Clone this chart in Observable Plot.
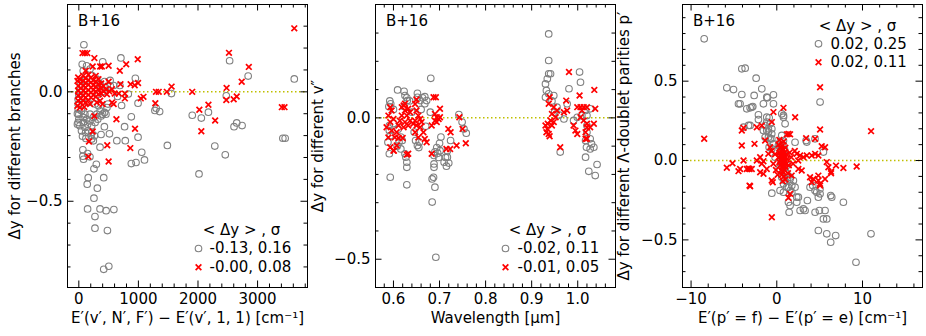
<!DOCTYPE html>
<html><head><meta charset="utf-8">
<script src="https://cdn.jsdelivr.net/npm/d3@7"></script>
<script src="https://cdn.jsdelivr.net/npm/@observablehq/plot@0.6"></script>
<style>
body{margin:0;background:#fff;}
#chart{display:flex;width:926px;height:336px;overflow:hidden;}
#chart svg{display:block;flex:none;}
</style></head><body><div id="chart"></div>
<script>
// ---------- shared text ----------
const sourceLabel = "B+16";
const legendTitle = "< Δy > , σ";

// ---------- panel 1: different branches ----------
const branchesXLabel = "E′(v′, N′, F′) − E′(v′, 1, 1) [cm⁻¹]";
const branchesYLabel = "Δy for different branches";
const branchesLegend = ["-0.13, 0.16", "-0.00, 0.08"];
const branchesXTicks = [0, 1000, 2000, 3000];
const branchesXTickLabels = ["0", "1000", "2000", "3000"];
const branchesXMinor = [200, 400, 600, 800, 1200, 1400, 1600, 1800, 2200, 2400, 2600, 2800, 3200, 3400, 3600, 3800];
const branchesYTicks = [-0.5, 0];
const branchesYTickLabels = ["−0.5", "0.0"];
const branchesYMinor = [-0.8, -0.7, -0.6, -0.4, -0.3, -0.2, -0.1, 0.1, 0.2, 0.3];
const branchesCircles = [
  [85,0.215],[706,0.155],[401,0.137],[2842,0.072],[2531,0.142],[3616,0.059],[949,0.062],[1554,-0.008],
  [1299,-0.075],[1356,-0.09],[1277,-0.085],[1904,-0.107],[2056,-0.12],[2175,-0.093],[2605,-0.159],[2650,-0.142],
  [2740,-0.154],[2475,-0.018],[1486,-0.245],[2282,-0.248],[2458,-0.288],[2017,-0.375],[3424,-0.212],[3463,-0.212],
  [881,-0.114],[994,-0.207],[768,-0.159],[780,-0.223],[638,-0.223],[514,-0.192],[718,-0.0625],[689,0.029],
  [525,0.052],[650,-0.021],[830,-0.01],[1056,-0.276],[1102,-0.311],[960,-0.323],[881,-0.328],[429,-0.159],
  [373,-0.195],[356,-0.253],[294,-0.331],[254,-0.352],[158,-0.392],[141,-0.422],[311,-0.44],[418,-0.392],
  [254,-0.486],[147,-0.535],[356,-0.535],[458,-0.543],[588,-0.538],[271,-0.57],[271,-0.623],[480,-0.634],
  [418,-0.811],[503,-0.797],[68,-0.294],[79,-0.308],[147,-0.282],[186,-0.297],[68,-0.265],[62,-0.203],[119,-0.213],
  [57,0.126],[74,0.096],[585,0.029],[432,0.047],[994,-0.052],
  [-11,-0.034],[-11,-0.056],[-11,-0.079],[0,-0.102],[0,-0.125],[-11,-0.14],[17,-0.155],[45,-0.087],[74,-0.117],
  [74,-0.14],[102,-0.102],[102,-0.163],[131,-0.125],[148,-0.148],[159,-0.178],[188,-0.102],[188,-0.133],[216,-0.155],
  [216,-0.186],[244,-0.117],[261,-0.201],[273,-0.14],[301,-0.102],[318,-0.125],[330,-0.064],[358,-0.087],[375,-0.11],
  [398,-0.102],[432,-0.094],[455,-0.102],[472,-0.072],[489,-0.056],[273,-0.056],[159,-0.049],[330,-0.011],[403,0.002],
  [443,0.02],[528,0.027],[358,0.035],[301,0.058],[227,0.073],[188,0.104],[131,0.119],[102,0.05],[34,0.035],[17,0.005],
  [0,-0.011],[244,-0.224],[216,-0.216],[205,-0.201],[114,-0.186],[45,-0.178],[-23,-0.148],[-23,-0.1]
];
const branchesCrosses = [
  [62,0.177],[102,0.177],[142,0.177],[261,0.154],[386,0.116],[500,0.119],[795,0.126],[989,0.149],[688,0.096],
  [233,0.116],[358,0.116],[-11,0.066],[114,0.096],[699,0.035],[869,0.035],[938,0.03],[994,0.04],[500,0.046],
  [602,-0.008],[670,-0.008],[773,-0.008],[773,-0.03],[585,-0.056],[1040,-0.03],[1085,-0.023],[1284,-0.052],
  [1295,0],[1341,0],[1477,0],[1557,0.024],[1903,0],[261,-0.111],[631,-0.125],[233,-0.181],[943,-0.169],
  [170,-0.227],[477,-0.244],[864,-0.257],[159,-0.296],[500,-0.318],
  [3616,0.29],[2520,0.178],[2853,0.114],[2734,0.046],[2480,0.018],[2475,-0.037],[2599,-0.034],[2650,-0.021],
  [2023,-0.082],[2175,-0.059],[2288,-0.131],[2056,-0.18],[3407,-0.07],[3452,-0.07],
  [-23,0.05],[-11,0.027],[-11,0.005],[-11,-0.018],[-11,-0.041],[-23,-0.064],[17,0.058],[34,0.038],[34,0.017],
  [34,-0.008],[34,-0.029],[34,-0.05],[74,0.073],[74,0.05],[74,0.027],[74,0.005],[74,-0.018],[74,-0.041],
  [114,0.062],[114,0.041],[114,0.02],[114,-0.003],[114,-0.026],[114,-0.049],[159,0.078],[159,0.053],[159,0.032],
  [159,0.008],[159,-0.014],[159,-0.038],[205,0.066],[205,0.043],[205,0.02],[205,-0.003],[205,-0.026],[244,0.053],
  [244,0.03],[244,0.008],[244,-0.015],[284,0.073],[284,0.047],[284,0.023],[284,0.002],[284,-0.023],[330,0.058],
  [330,0.035],[330,0.012],[330,-0.011],[375,0.038],[375,0.017],[375,-0.008],[415,0.027],[415,0.002],[455,0.012],
  [472,-0.011],[511,0.002],[557,0.012],[358,-0.041],[301,-0.049],[188,-0.056],[91,-0.069],[17,-0.072],[398,-0.056],[557,-0.049]
];

// ---------- panel 2: different v'' ----------
const vppXLabel = "Wavelength [µm]";
const vppYLabel = "Δy for different v″";
const vppLegend = ["-0.02, 0.11", "-0.01, 0.05"];
const vppXTicks = [0.6, 0.7, 0.8, 0.9, 1.0];
const vppXTickLabels = ["0.6", "0.7", "0.8", "0.9", "1.0"];
const vppXMinor = [0.58, 0.62, 0.64, 0.66, 0.68, 0.72, 0.74, 0.76, 0.78, 0.82, 0.84, 0.86, 0.88, 0.92, 0.94, 0.96, 0.98, 1.02, 1.04, 1.06];
const vppYTicks = [-0.5, 0];
const vppYTickLabels = ["−0.5", "0.0"];
const vppYMinor = [-0.4, -0.3, -0.2, -0.1, 0.1, 0.2, 0.3];
const vppCircles = [
  [0.593,-0.21],[0.591,-0.127],[0.588,-0.086],[0.593,-0.063],[0.591,-0.045],[0.591,-0.027],[0.609,0.099],[0.623,0.094],
  [0.625,0.079],[0.629,0.071],[0.63,0.061],[0.629,-0.237],[0.629,-0.175],[0.629,-0.157],[0.627,-0.139],[0.625,-0.127],
  [0.681,0.14],[0.652,0.087],[0.652,0.073],[0.658,0.061],[0.663,0.071],[0.668,0.075],[0.672,0.061],[0.668,0.05],
  [0.684,-0.298],[0.69,-0.245],[0.687,-0.21],[0.684,-0.216],[0.688,-0.163],[0.688,-0.175],[0.688,-0.133],[0.692,-0.493],
  [0.703,-0.068],[0.701,-0.116],[0.717,-0.116],[0.717,-0.139],[0.715,-0.171],[0.724,-0.08],[0.742,0.012],[0.749,-0.015],
  [0.753,-0.039],[0.758,-0.054],[0.71,-0.157],[0.652,-0.098],[0.656,-0.086],[0.612,-0.086],[0.616,-0.11],[0.619,-0.08],
  [0.616,-0.068],[0.592,0.06],[0.594,0.05],[0.59,0.04],[0.648,-0.08],[0.655,-0.105],[0.694,-0.105],[0.696,-0.125],
  [0.698,-0.14],[0.713,-0.14],[0.72,-0.16],[0.623,0.04],[0.66,0.03],[0.64,0.02],[0.6,-0.02],[0.61,-0.04],[0.645,-0.05],
  [0.67,-0.03],[0.68,0.02],[0.635,0.06],[0.6,0.03],[0.608,-0.1],[0.7,-0.09],[0.69,-0.12],
  [0.937,0.297],[0.937,0.203],[0.937,0.156],[0.934,0.138],[0.941,0.156],[0.93,0.12],[0.932,0.097],[0.937,0.085],
  [0.948,0.079],[0.93,0.073],[0.944,0.06],[1.004,0.162],[1.006,0.126],[0.981,0.103],[0.97,-0.004],[0.962,-0.121],
  [0.977,0.05],[0.955,0.038],[1.02,-0.027],[1.02,-0.051],[1.017,-0.08],[1.019,-0.104],[1.017,-0.139],[1.027,-0.074],
  [1.03,-0.092],[1.027,-0.11],[1.035,-0.104],[1.042,-0.165],[1.024,-0.189],[1.038,-0.204],[0.991,-0.009],[0.999,0.002],
  [1.009,0.008],[1.017,0.026],[1.02,0.008],[1.027,0.032],[0.95,0.02],[0.96,0.01]
];
const vppCrosses = [
  [0.593,0.038],[0.596,0.026],[0.589,0.008],[0.6,-0.004],[0.593,-0.015],[0.585,-0.033],[0.596,-0.045],[0.607,-0.051],
  [0.589,-0.069],[0.611,-0.071],[0.62,-0.071],[0.593,-0.104],[0.6,-0.116],[0.618,0.038],[0.622,0.044],[0.625,0.026],
  [0.629,0.008],[0.632,0.032],[0.636,0.02],[0.618,0.008],[0.614,-0.01],[0.625,-0.015],[0.636,-0.01],[0.622,-0.033],
  [0.632,-0.027],[0.643,-0.021],[0.611,-0.027],[0.647,0.049],[0.65,0.026],[0.654,0.008],[0.658,-0.004],[0.647,-0.01],
  [0.65,-0.027],[0.661,-0.015],[0.658,-0.033],[0.647,-0.051],[0.654,-0.069],[0.665,-0.051],[0.668,-0.075],[0.672,-0.086],
  [0.687,0.073],[0.692,0.073],[0.701,0.032],[0.69,0.014],[0.694,0.002],[0.698,-0.004],[0.69,-0.01],[0.701,0.002],
  [0.694,-0.015],[0.683,-0.027],[0.719,-0.039],[0.743,0.002],[0.75,-0.039],[0.757,-0.09],[0.715,-0.11],[0.723,-0.11],
  [0.737,-0.098],[0.683,-0.127],[0.632,-0.127],[0.607,-0.098],[0.603,-0.069],[0.629,-0.13],[0.601,-0.116],[0.724,-0.051],
  [0.65,0.065],[0.625,0.05],
  [0.981,0.162],[0.939,0.073],[0.975,0.061],[1.004,0.079],[1.036,0.099],[0.962,-0.104],[0.93,-0.027],[0.934,-0.039],
  [0.932,-0.051],[0.937,-0.057],[0.939,-0.065],[0.944,0.014],[0.948,0.038],[0.952,0.002],[0.955,0.026],[0.999,0.038],
  [1.006,0.038],[1.013,0.038],[1.02,0.038],[1.009,0.026],[1.038,0.032],[0.995,-0.045],[0.999,-0.057],[1.02,-0.021],
  [1.02,-0.033],[1.017,-0.051],[1.035,-0.021],[1.027,-0.033],[1.017,-0.074],[1.02,-0.074],[0.97,0.02],[0.977,0.026],
  [0.937,0.05],[0.941,-0.009],[0.948,-0.015],[0.935,-0.021],[0.944,-0.027],[1.006,0.002],[1.013,-0.009],[0.991,-0.027]
];

// ---------- panel 3: different Lambda-doublet parities ----------
const parXLabel = "E′(p′ = f) − E′(p′ = e) [cm⁻¹]";
const parYLabel = "Δy for different Λ-doublet parities p′";
const parLegend = ["0.02, 0.25", "0.02, 0.11"];
const parXTicks = [-10, 0, 10];
const parXTickLabels = ["−10", "0", "10"];
const parXMinor = [-8, -6, -4, -2, 2, 4, 6, 8, 12, 14, 16];
const parYTicks = [-0.5, 0, 0.5];
const parYTickLabels = ["−0.5", "0.0", "0.5"];
const parYMinor = [-0.7, -0.6, -0.4, -0.3, -0.2, -0.1, 0.1, 0.2, 0.3, 0.4, 0.6, 0.7, 0.8, 0.9];
const parCircles = [
  [-8.47,0.767],[-4.08,0.578],[-3.69,0.582],[-5.83,0.458],[-5.05,0.447],[-2.41,0.519],[-1.75,0.452],[-4.08,0.416],
  [-2.64,0.41],[-0.39,0.414],[-1.09,0.395],[-4.47,0.357],[-3.5,0.326],[-3.11,0.332],[-2.8,0.34],[-2.14,0.288],
  [-2.14,0.258],[-1.17,0.273],[-0.89,0.269],[-0.78,0.231],[-1.36,0.221],[-1.17,0.189],[-0.97,0.179],[-0.58,0.2],
  [-1.36,0.147],[-0.97,0.147],[-0.58,0.137],[-0.39,0.105],[-0.89,0.084],[-0.58,0.074],[-3.88,0.21],[-3.3,0.221],
  [5.05,0.368],[0.58,0.294],[0.78,0.273],[0.58,0.158],[0.78,0.126],[0.39,0.101],[3.5,0.116],[5.44,0.053],
  [1.17,-0.084],[1.55,-0.105],[1.94,-0.126],[1.75,-0.158],[1.17,-0.168],[0.78,-0.2],[1.55,-0.189],[1.36,-0.263],
  [1.44,-0.326],[2.33,-0.263],[2.52,-0.231],[1.75,-0.2],[2.72,-0.315],[3.3,-0.315],[3.57,-0.252],[4.47,-0.326],
  [4.97,-0.315],[5.44,-0.368],[5.83,-0.368],[5.63,-0.315],[4.85,-0.441],[5.83,-0.462],[6.29,-0.515],[6.87,-0.473],
  [10.99,-0.462],[9.24,-0.641],[7.77,-0.263],[6.29,-0.221],[4.19,-0.158],[4.66,-0.2],[5.05,-0.21],[-0.58,-0.206],
  [-1.17,0.242],[-1.56,0.189],[-0.98,0.2],[-0.59,0.168],[-0.78,0.137],[0.19,0.095],[0.38,0.053],[-0.2,0.021],
  [0.58,-0.105],[0.97,-0.126],[1.55,-0.116],[0.78,-0.147],[1.36,-0.168],[0.38,-0.189],[2.13,-0.168],[2.33,-0.231],
  [3.11,-0.305],[1.55,-0.284],[3.88,-0.168],[4.46,-0.189],[5.04,-0.179],[4.85,-0.231],[6.41,-0.231],[2.13,0.115],
  [0.97,0.231],[0.78,0.284],[-0.39,0.357],[-1.17,0.399],[-1.56,0.357],[-2.92,0.336],[-3.11,0.221],[-4.28,0.357],
  [3.42,0.126],[4.46,0.137],
  [0.5,0.08],[0.6,0.05],[0.7,0.02],[0.8,-0.01],[0.9,-0.04],[1.0,-0.07],[0.6,-0.02],[0.5,0.0],[1.1,0.03],[0.4,0.12],
  [0.7,0.1],[1.2,-0.03],[0.3,-0.05],[0.9,0.07]
];
const parCrosses = [
  [-8.47,0.137],[-5.83,-0.046],[-5.17,-0.017],[-4.47,-0.067],[-4.08,0.189],[-3.88,0.206],[-4.08,0.095],[-3.88,0],
  [-3.5,-0.053],[-3.18,-0.053],[-3.18,-0.158],[-2.6,0.105],[-2.33,0.21],[-1.75,0.22],[-0.58,0.242],[-0.39,0.305],
  [-0.47,-0.137],[-0.58,-0.357],[0.78,0.332],[1.17,0.165],[1.36,0.168],[1.55,0.165],[2.14,0.273],[3.42,0.141],
  [4.47,0.137],[5.05,0.462],[5.05,0.195],[5.24,0.09],[5.63,0.084],[5.83,-0.01],[6.02,-0.042],[6.91,-0.032],
  [6.33,-0.08],[6.33,-0.07],[9.32,-0.038],[11,0.185],[3.88,-0.105],[4.27,-0.116],[4.85,-0.095],[4.08,-0.137],
  [4.85,-0.126],[5.05,-0.158],[1.55,-0.21],[2.33,0.042],[2.72,0.032],[3.11,0.021],[3.5,0.032],[4.08,0.032],
  [4.85,0.032],[2.52,-0.053],[2.91,-0.063],[-1.94,-0.074],[-1.55,-0.084],[-1.17,-0.053],[-1.75,-0.021],[4.47,0.042],
  [-2.33,0],[-1.94,0.021],[-1.36,0.126],[-0.78,0.084],[-0.98,0.042],[-1.56,-0.005],[-2.92,-0.053],[-3.3,-0.05],
  [-4.28,-0.053],[-3.11,-0.162],[-0.59,-0.126],[1.36,-0.235],[1.74,-0.095],[5.04,-0.147],[5.63,-0.116],[7.77,-0.047],
  [0.2,0.1],[0.4,0.08],[0.6,0.09],[0.8,0.07],[1.0,0.08],[0.3,0.05],[0.5,0.06],[0.7,0.04],[0.9,0.05],[1.1,0.04],
  [0.2,0.02],[0.4,0.03],[0.6,0.02],[0.8,0.01],[1.0,0.02],[1.2,0.01],[0.3,-0.01],[0.5,0.0],[0.7,-0.01],[0.9,0.0],
  [1.1,-0.02],[0.4,-0.03],[0.6,-0.04],[0.8,-0.03],[1.0,-0.04],[0.5,-0.06],[0.7,-0.07],[0.9,-0.06],[0.6,-0.09],
  [0.8,-0.1],[1.0,-0.12],[0.7,-0.13],[0.3,0.13],[0.8,0.12],[1.3,-0.08],[1.5,0.05],[1.7,0.02],[1.9,-0.02],[2.1,0.06],
  [-0.2,0.04],[-0.4,-0.02],[-0.1,-0.06],[0.1,-0.09],[1.4,-0.03],[2.5,0.0],[-0.6,0.06],[0.55,0.015],[0.75,0.03],
  [0.65,-0.015],[0.85,-0.015]
];

// ---------- drawing ----------
const FONT = "DejaVu Sans, sans-serif";
const H = 336, MT = 4, MB = 49;
function panel(c) {
  const innerW = c.width - c.marginLeft - c.marginRight;
  const innerH = H - MT - MB;
  const maj = 6.5, mnr = 3.5;
  const xl = new Map(c.xTicks.map((t, i) => [t, c.xTickLabels[i]]));
  const yl = new Map(c.yTicks.map((t, i) => [t, c.yTickLabels[i]]));
  const L = c.legend;
  const tickStyle = {stroke: "black", strokeWidth: 1};
  return Plot.plot({
    width: c.width, height: H,
    marginLeft: c.marginLeft, marginRight: c.marginRight, marginTop: MT, marginBottom: MB,
    style: {fontFamily: FONT, fontSize: "15px", background: "white", color: "black", overflow: "visible"},
    x: {domain: c.xDomain, axis: null},
    y: {domain: c.yDomain, axis: null},
    marks: [
      Plot.ruleY([0], {stroke: "#bfbf00", strokeWidth: 1.5, strokeDasharray: "1.5,2.5"}),
      Plot.ruleX(c.xTicks, {x: d => d, insetTop: innerH - maj, ...tickStyle}),
      Plot.ruleX(c.xTicks, {x: d => d, insetBottom: innerH - maj, ...tickStyle}),
      Plot.ruleX(c.xMinor, {x: d => d, insetTop: innerH - mnr, ...tickStyle}),
      Plot.ruleX(c.xMinor, {x: d => d, insetBottom: innerH - mnr, ...tickStyle}),
      Plot.ruleY(c.yTicks, {y: d => d, insetRight: innerW - maj, ...tickStyle}),
      Plot.ruleY(c.yTicks, {y: d => d, insetLeft: innerW - maj, ...tickStyle}),
      Plot.ruleY(c.yMinor, {y: d => d, insetRight: innerW - mnr, ...tickStyle}),
      Plot.ruleY(c.yMinor, {y: d => d, insetLeft: innerW - mnr, ...tickStyle}),
      Plot.axisX({ticks: c.xTicks, anchor: "bottom", tickSize: 0, tickPadding: 6, tickFormat: d => xl.get(d), label: null, fontSize: 15}),
      Plot.axisY({ticks: c.yTicks, anchor: "left", tickSize: 0, tickPadding: 5, tickFormat: d => yl.get(d), label: null, fontSize: 15}),
      Plot.dot(c.circles, {x: d => d[0], y: d => d[1], r: 3.3, stroke: "#808080", strokeWidth: 1.1, fill: "none"}),
      Plot.dot(c.crosses, {x: d => d[0], y: d => d[1], symbol: "times", r: 2.7, stroke: "red", strokeWidth: 1.7}),
      Plot.frame({stroke: "black", strokeWidth: 1}),
      Plot.text([sourceLabel], {text: d => d, frameAnchor: "top-left", dx: 10.5, dy: 11, textAnchor: "start", lineAnchor: "top", fontSize: 15}),
      Plot.text([c.xLabel], {text: d => d, frameAnchor: "bottom", dy: 25, textAnchor: "middle", lineAnchor: "top", fontSize: 15}),
      Plot.text([c.yLabel], {text: d => d, frameAnchor: "left", dx: c.yLabelDx, rotate: -90, textAnchor: "middle", lineAnchor: "middle", fontSize: 15}),
      Plot.text([legendTitle], {text: d => d, frameAnchor: c.legAnchor, dx: c.leg.hx, dy: c.leg.hy, textAnchor: "middle", lineAnchor: "middle", fontSize: 15}),
      Plot.dot([L[0]], {frameAnchor: c.legAnchor, dx: c.leg.mx, dy: c.leg.r1, r: 3.3, stroke: "#808080", strokeWidth: 1.1, fill: "none"}),
      Plot.dot([L[1]], {frameAnchor: c.legAnchor, dx: c.leg.mx, dy: c.leg.r2, symbol: "times", r: 2.7, stroke: "red", strokeWidth: 1.7}),
      Plot.text([L[0]], {text: d => d, frameAnchor: c.legAnchor, dx: c.leg.tx, dy: c.leg.r1, textAnchor: "start", lineAnchor: "middle", fontSize: 15}),
      Plot.text([L[1]], {text: d => d, frameAnchor: c.legAnchor, dx: c.leg.tx, dy: c.leg.r2, textAnchor: "start", lineAnchor: "middle", fontSize: 15})
    ]
  });
}

const chart = document.getElementById("chart");
chart.append(panel({
  width: 310, marginLeft: 67, marginRight: 3,
  xDomain: [-190, 3838], yDomain: [-0.894, 0.399],
  xTicks: branchesXTicks, xTickLabels: branchesXTickLabels, xMinor: branchesXMinor,
  yTicks: branchesYTicks, yTickLabels: branchesYTickLabels, yMinor: branchesYMinor,
  circles: branchesCircles, crosses: branchesCrosses,
  xLabel: branchesXLabel, yLabel: branchesYLabel, yLabelDx: -52.5,
  legend: branchesLegend, legAnchor: "bottom-right",
  leg: {hx: -66, hy: -57, mx: -109, tx: -98, r1: -39, r2: -20.3}
}));
chart.append(panel({
  width: 308, marginLeft: 65, marginRight: 3,
  xDomain: [0.561, 1.082], yDomain: [-0.6, 0.401],
  xTicks: vppXTicks, xTickLabels: vppXTickLabels, xMinor: vppXMinor,
  yTicks: vppYTicks, yTickLabels: vppYTickLabels, yMinor: vppYMinor,
  circles: vppCircles, crosses: vppCrosses,
  xLabel: vppXLabel, yLabel: vppYLabel, yLabelDx: -57,
  legend: vppLegend, legAnchor: "bottom-right",
  leg: {hx: -68, hy: -57, mx: -110, tx: -98, r1: -39, r2: -20.3}
}));
chart.append(panel({
  width: 308, marginLeft: 64, marginRight: 4,
  xDomain: [-11.0, 17.0], yDomain: [-0.8, 0.983],
  xTicks: parXTicks, xTickLabels: parXTickLabels, xMinor: parXMinor,
  yTicks: parYTicks, yTickLabels: parYTickLabels, yMinor: parYMinor,
  circles: parCircles, crosses: parCrosses,
  xLabel: parXLabel, yLabel: parYLabel, yLabelDx: -58,
  legend: parLegend, legAnchor: "top-right",
  leg: {hx: -65, hy: 22, mx: -104, tx: -92, r1: 39.3, r2: 57.7}
}));
</script></body></html>
